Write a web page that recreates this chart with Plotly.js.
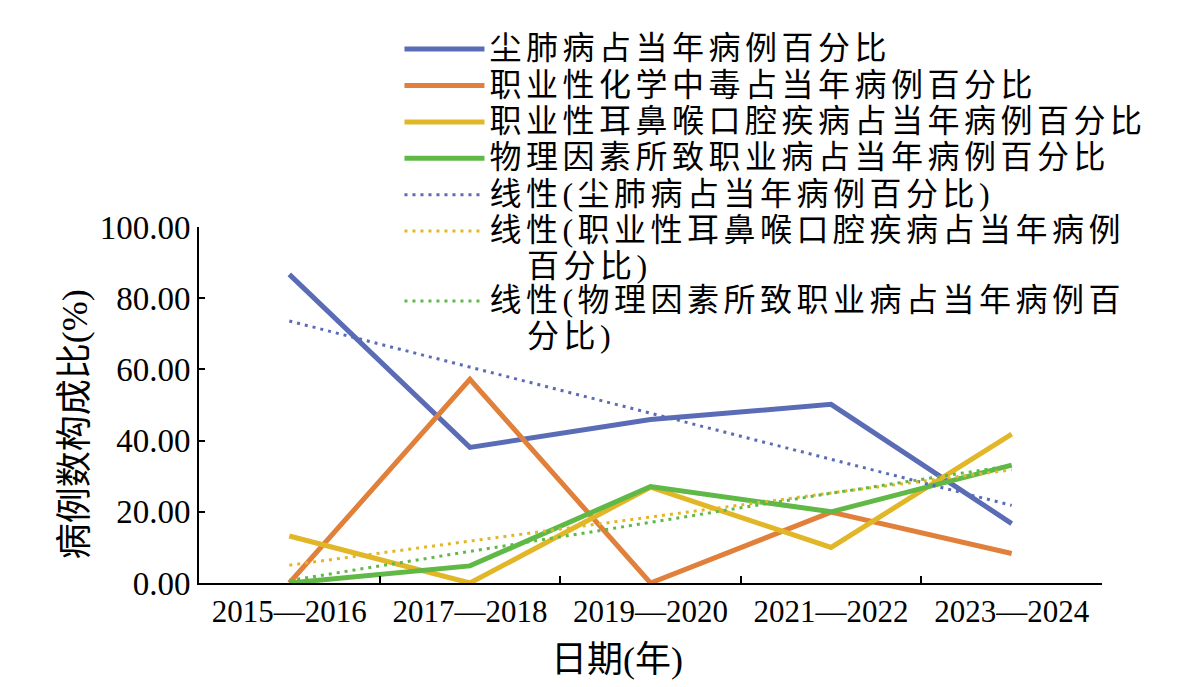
<!DOCTYPE html>
<html>
<head>
<meta charset="utf-8">
<script src="https://cdn.plot.ly/plotly-3.0.1.min.js"></script>
<style>
  html, body { margin: 0; padding: 0; background: #fff; }
  #chart { width: 1192px; height: 687px; }
  /* the source legend packs large glyphs into tight rows */
  .legendtext { font-size: 32px !important; letter-spacing: 4.5px; }
</style>
</head>
<body>
<div id="chart"></div>
<script>
// periods on the x axis
var periods = ['2015—2016', '2017—2018', '2019—2020', '2021—2022', '2023—2024'];

// share of cases (%)
var dustLung = [86.7, 38.1, 45.9, 50.2, 16.7];
var chemPoison = [0, 57.2, 0, 19.9, 8.3];
var entOral = [13.2, 0, 26.9, 10.0, 41.8];
var physical = [0, 4.8, 27.1, 20.0, 33.1];

// dotted linear trend lines
var trendDust = [73.6, 60.7, 47.8, 34.9, 21.8];
var trendEnt = [5.0, 11.8, 18.5, 25.3, 31.8];
var trendPhys = [0.7, 8.9, 17.1, 25.2, 33.0];

var names = [
  '尘肺病占当年病例百分比',
  '职业性化学中毒占当年病例百分比',
  '职业性耳鼻喉口腔疾病占当年病例百分比',
  '物理因素所致职业病占当年病例百分比',
  '线性(尘肺病占当年病例百分比)',
  '线性(职业性耳鼻喉口腔疾病占当年病例<br>\u00a0\u00a0\u00a0百分比)',
  '线性(物理因素所致职业病占当年病例百<br>\u00a0\u00a0\u00a0分比)'
];

var blue = '#5b6cb6', orange = '#e0803a', yellow = '#e2b727', green = '#60b847';

function solid(y, name, color) {
  return { x: periods, y: y, name: name, type: 'scatter', mode: 'lines',
           line: { color: color, width: 5 } };
}
function dotted(y, name, color) {
  return { x: periods, y: y, name: name, type: 'scatter', mode: 'lines',
           line: { color: color, width: 3, dash: '3px,5px' } };
}

var data = [
  solid(dustLung, names[0], blue),
  solid(chemPoison, names[1], orange),
  solid(entOral, names[2], yellow),
  solid(physical, names[3], green),
  dotted(trendDust, names[4], blue),
  dotted(trendEnt, names[5], yellow),
  dotted(trendPhys, names[6], green)
];

var serif = '"Liberation Serif", "Times New Roman", "Noto Sans CJK SC", serif';

var layout = {
  width: 1192, height: 687,
  paper_bgcolor: '#fff', plot_bgcolor: '#fff',
  margin: { l: 199, r: 90, t: 227, b: 104 },
  showlegend: true,
  legend: {
    x: 0.222, y: 1.565, xanchor: 'left', yanchor: 'top', valign: 'top',
    bgcolor: 'rgba(0,0,0,0)', borderwidth: 0,
    font: { family: serif, size: 25.7, color: '#000' },
    itemwidth: 80, tracegroupgap: 0
  },
  xaxis: {
    type: 'category', range: [-0.5, 4.5],
    showline: true, linecolor: '#000', linewidth: 2,
    ticks: 'inside', ticklen: 7, tickwidth: 2, tickcolor: '#000',
    tickson: 'boundaries', showgrid: false, zeroline: false,
    tickfont: { family: serif, size: 31, color: '#000' }
  },
  yaxis: {
    range: [0, 100], dtick: 20, tickformat: '.2f',
    showline: true, linecolor: '#000', linewidth: 2,
    ticks: 'inside', ticklen: 6, tickwidth: 2, tickcolor: '#000',
    showgrid: false, zeroline: false,
    tickfont: { family: serif, size: 33, color: '#000' }
  },
  annotations: [
    { text: '日期(年)', xref: 'paper', yref: 'paper', x: 0.463, y: -0.216,
      xanchor: 'center', yanchor: 'middle', showarrow: false,
      font: { family: serif, size: 36, color: '#000' } },
    { text: '病例数构成比(%)', xref: 'paper', yref: 'paper', x: -0.137, y: 0.447,
      xanchor: 'center', yanchor: 'middle', showarrow: false, textangle: -90,
      font: { family: serif, size: 36, color: '#000' } }
  ]
};

Plotly.newPlot('chart', data, layout, { displayModeBar: false, staticPlot: true }).then(function () {
  // keep wrapped legend lines as tight as the single rows
  document.querySelectorAll('.legendtext tspan.line').forEach(function (t) {
    if (t.getAttribute('dy') && t.getAttribute('dy') !== '0em') t.setAttribute('dy', '1.13em');
  });
});
</script>
</body>
</html>
